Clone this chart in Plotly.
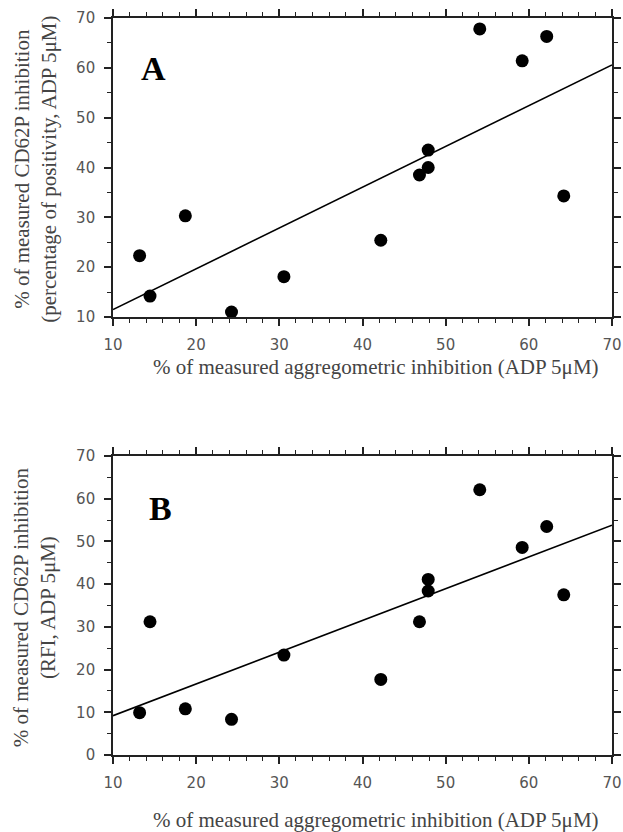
import numpy as np
import plotly.graph_objects as go

# Data
aggregometric_inhibition = [13.2, 14.45, 18.7, 24.25, 30.55, 42.2, 46.85, 47.9, 47.9, 54.1, 59.2, 62.15, 64.2]
cd62p_positivity_A = [22.3, 14.2, 30.3, 11.0, 18.1, 25.4, 38.5, 40.0, 43.5, 67.8, 61.4, 66.3, 34.3]
aggregometric_inhibition_B = [13.2, 14.45, 18.7, 24.25, 30.55, 42.2, 46.85, 47.9, 47.9, 54.1, 59.2, 62.15, 64.2]
cd62p_rfi_B = [9.9, 31.2, 10.8, 8.35, 23.4, 17.7, 31.2, 38.4, 41.1, 62.1, 48.6, 53.5, 37.5]

x_ticks = [10, 20, 30, 40, 50, 60, 70]
y_ticks_A = [10, 20, 30, 40, 50, 60, 70]
y_ticks_B = [0, 10, 20, 30, 40, 50, 60, 70]

x_title = "% of measured aggregometric inhibition (ADP 5μM)"
y_title_A = "% of measured CD62P inhibition<br>(percentage of positivity, ADP 5μM)"
y_title_B = "% of measured CD62P inhibition<br>(RFI, ADP 5μM)"

fig = go.Figure()

def add_panel(xs, ys, xa, ya):
    fig.add_trace(go.Scatter(x=xs, y=ys, mode="markers",
                             marker=dict(color="black", size=13),
                             xaxis=xa, yaxis=ya, showlegend=False, hoverinfo="x+y"))
    slope, intercept = np.polyfit(xs, ys, 1)
    lx = np.array([10.0, 70.0])
    fig.add_trace(go.Scatter(x=lx, y=slope * lx + intercept, mode="lines",
                             line=dict(color="black", width=1.6),
                             xaxis=xa, yaxis=ya, showlegend=False, hoverinfo="skip"))

add_panel(aggregometric_inhibition, cd62p_positivity_A, "x", "y")
add_panel(aggregometric_inhibition_B, cd62p_rfi_B, "x2", "y2")

tickfont = dict(family="DejaVu Sans", size=15, color="#555555")
common = dict(showline=True, linecolor="#222222", linewidth=1.6, mirror="allticks",
              ticks="outside", ticklen=7, tickwidth=1.5, tickcolor="#222222",
              showgrid=False, zeroline=False, tickfont=tickfont, ticklabelstandoff=6,
              automargin=False)

xaxis_common = dict(common, range=[10, 70], tickvals=x_ticks,
                    minor=dict(dtick=2, ticks="outside", ticklen=4, tickwidth=1.2, tickcolor="#222222", showgrid=False))

fig.update_layout(
    width=623, height=832,
    margin=dict(l=113, r=11, t=18, b=77),
    paper_bgcolor="white", plot_bgcolor="white",
    xaxis=dict(xaxis_common, domain=[0, 1], anchor="y"),
    yaxis=dict(common, range=[10, 70], tickvals=y_ticks_A, domain=[0.5943, 1.0], anchor="x",
               minor=dict(dtick=5, tick0=0, ticks="outside", ticklen=4, tickwidth=1.2, tickcolor="#222222", showgrid=False)),
    xaxis2=dict(xaxis_common, domain=[0, 1], anchor="y2"),
    yaxis2=dict(common, range=[0, 70], tickvals=y_ticks_B, domain=[0, 0.4057], anchor="x2",
                minor=dict(dtick=5, tick0=0, ticks="outside", ticklen=4, tickwidth=1.2, tickcolor="#222222", showgrid=False)),
)

title_font = dict(family="Liberation Serif", size=21, color="#444444")
annotations = [
    dict(text=x_title, xref="paper", yref="paper", x=0.527, y=0.526, xanchor="center", yanchor="middle",
         showarrow=False, font=title_font),
    dict(text=x_title, xref="paper", yref="paper", x=0.527, y=-0.088, xanchor="center", yanchor="middle",
         showarrow=False, font=title_font),
    dict(text=y_title_A, xref="paper", yref="paper", x=-0.157, y=0.795, xanchor="center", yanchor="middle",
         showarrow=False, font=title_font, textangle=-90),
    dict(text=y_title_B, xref="paper", yref="paper", x=-0.157, y=0.2, xanchor="center", yanchor="middle",
         showarrow=False, font=title_font, textangle=-90),
    dict(text="<b>A</b>", xref="paper", yref="paper", x=0.082, y=0.931, xanchor="center", yanchor="middle",
         showarrow=False, font=dict(family="Liberation Serif", size=34, color="black")),
    dict(text="<b>B</b>", xref="paper", yref="paper", x=0.096, y=0.335, xanchor="center", yanchor="middle",
         showarrow=False, font=dict(family="Liberation Serif", size=34, color="black")),
]
fig.update_layout(annotations=annotations)

fig.write_html("out.html", config={"displayModeBar": False},
               post_script="document.body.style.margin='0px';")
